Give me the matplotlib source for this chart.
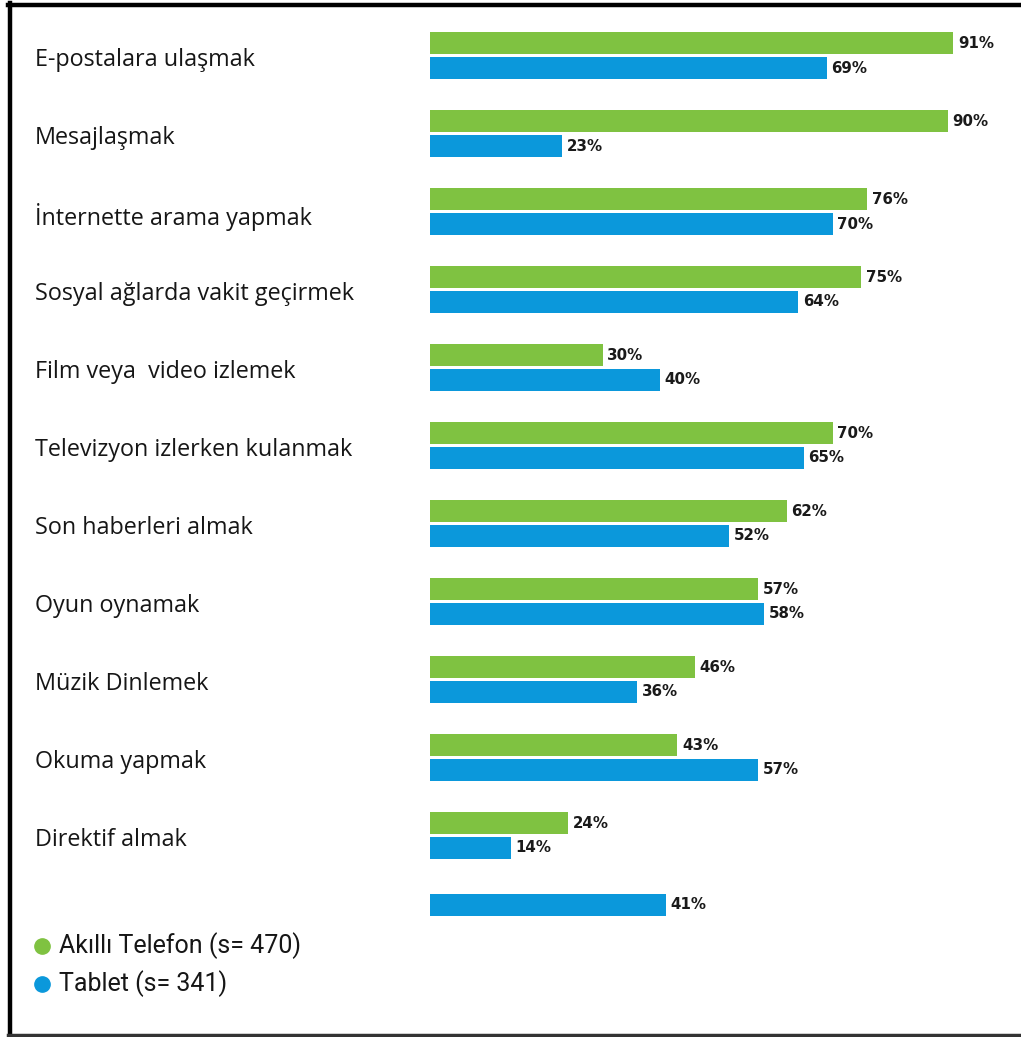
import matplotlib
matplotlib.use("Agg")
import matplotlib.pyplot as plt
from matplotlib.lines import Line2D

# Activity categories and usage shares (%) per device
categories = [
    "E-postalara ulaşmak",
    "Mesajlaşmak",
    "İnternette arama yapmak",
    "Sosyal ağlarda vakit geçirmek",
    "Film veya  video izlemek",
    "Televizyon izlerken kulanmak",
    "Son haberleri almak",
    "Oyun oynamak",
    "Müzik Dinlemek",
    "Okuma yapmak",
    "Direktif almak",
    "",
]
smartphone = [91, 90, 76, 75, 30, 70, 62, 57, 46, 43, 24, None]
tablet = [69, 23, 70, 64, 40, 65, 52, 58, 36, 57, 14, 41]

legend_labels = ["Akıllı Telefon (s= 470)", "Tablet (s= 341)"]

GREEN = "#7fc241"
BLUE = "#0b98db"

W, H = 1021, 1037
fig = plt.figure(figsize=(W / 100, H / 100), dpi=100)
fig.patch.set_facecolor("white")

# Axes spans the full height; left edge at the bar baseline
ax_left = 430 / W
ax_width = 575 / W
ax = fig.add_axes([ax_left, 0.0, ax_width, 1.0])
ax.set_xlim(0, 100)
pitch = 78.0
top_center = 55.5
ax.set_ylim((H - top_center) / pitch, -top_center / pitch)
ax.axis("off")

bar_h = 22 / pitch
off = 12.5 / pitch
label_font = dict(family="DejaVu Sans", weight="bold", size=10.8, color="#1a1a1a")

for i, (cat, sp, tb) in enumerate(zip(categories, smartphone, tablet)):
    if sp is not None:
        ax.barh(i - off, sp, height=bar_h, color=GREEN, left=0)
        ax.annotate(f"{sp}%", (sp, i - off), xytext=(3.5, 0), textcoords="offset points",
                    va="center", ha="left", **label_font)
        tb_y = i + off
    else:
        tb_y = i - off + 4 / pitch
    ax.barh(tb_y, tb, height=bar_h, color=BLUE, left=0)
    ax.annotate(f"{tb}%", (tb, tb_y), xytext=(3.5, 0), textcoords="offset points",
                va="center", ha="left", **label_font)
    if cat:
        fig.text(35 / W, 1 - (top_center + pitch * i + 5) / H, cat,
                 ha="left", va="center", fontsize=16.8, family="Open Sans",
                 color="#161616")

# Legend: coloured dots with sample sizes
for j, (lab, col) in enumerate(zip(legend_labels, [GREEN, BLUE])):
    y = 1 - (946 + 38 * j) / H
    fig.add_artist(Line2D([42 / W], [y], marker="o", markersize=11,
                          color=col, linestyle="none", transform=fig.transFigure))
    fig.text(59 / W, y, lab, ha="left", va="center", fontsize=18,
             family="Roboto", color="#161616")

# Frame lines on the left, top and bottom
fig.add_artist(Line2D([10 / W, 10 / W], [0, 1 - 3 / H], color="black", lw=3.2,
                      transform=fig.transFigure))
fig.add_artist(Line2D([8 / W, 1], [1 - 5 / H, 1 - 5 / H], color="black", lw=3.2,
                      transform=fig.transFigure))
fig.add_artist(Line2D([8 / W, 1], [1 - 1034.5 / H, 1 - 1034.5 / H], color="#333333",
                      lw=2.5, transform=fig.transFigure))

fig.savefig("out.png", dpi=100, facecolor="white")
